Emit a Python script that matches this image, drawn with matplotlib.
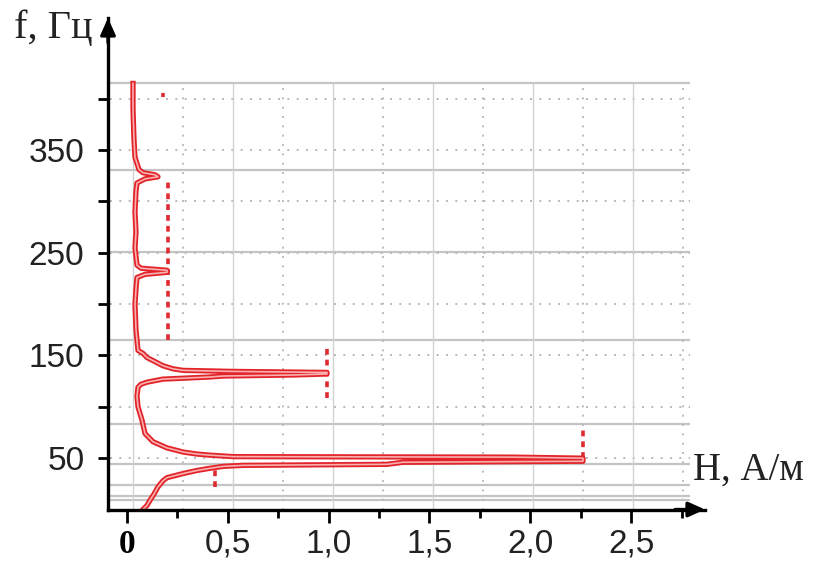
import matplotlib
matplotlib.use("Agg")
import matplotlib.pyplot as plt
import matplotlib.patheffects as pe

# spectrum of the field strength H (A/m) over frequency f (Hz)
spec_f = [0, 4, 9, 15, 22, 28, 31, 35, 38, 40, 42, 43, 44, 46, 47, 50, 51, 51.5,
          53, 54, 56, 60, 66, 74, 87, 100, 110, 119, 122, 124, 127, 129, 130, 131,
          132, 133.5, 134.5, 135.5, 137, 140, 143, 148, 152, 155, 175, 200, 215,
          226, 229, 231, 233, 235, 238, 255, 270, 290, 310, 318, 322, 324, 326,
          328, 331, 337, 343, 360, 390, 415]
spec_H = [0.05, 0.07, 0.085, 0.105, 0.125, 0.15, 0.17, 0.25, 0.32, 0.38, 0.45,
          0.55, 1.27, 1.35, 2.25, 2.25, 1.9, 0.5, 0.38, 0.32, 0.25, 0.17, 0.10,
          0.06, 0.045, 0.025, 0.02, 0.025, 0.04, 0.07, 0.15, 0.38, 0.45, 0.8,
          0.97, 0.97, 0.5, 0.25, 0.2, 0.15, 0.12, 0.07, 0.05, 0.025, 0.015, 0.01,
          0.015, 0.02, 0.06, 0.17, 0.17, 0.04, 0.02, 0.01, 0.015, 0.01, 0.015,
          0.02, 0.06, 0.125, 0.11, 0.05, 0.03, 0.02, 0.01, 0.005, 0.0, 0.0]

# dashed level markers: H value, f from, f to
mark_H = [0.175, 0.97, 2.25, 0.41, 0.15]
mark_f0 = [165, 109, 50, 22, 402]
mark_f1 = [322, 157, 79, 41, 406]

# chart grid
grid_solid_f = [415, 331, 251, 165, 83, 44, 24, 13, 9]
grid_dot_f = [50, 100, 150, 200, 250, 300, 350, 400]
grid_solid_H = [0, 0.5, 1.0, 1.5, 2.0, 2.5]
grid_dot_H = [0.25, 0.75, 1.25, 1.75, 2.25, 2.75]

# axis ticks
y_major = [50, 150, 250, 350]
y_minor = [100, 200, 300, 400]
x_major = [0, 0.5, 1.0, 1.5, 2.0, 2.5]
x_minor = [0.25, 0.75, 1.25, 1.75, 2.25, 2.75]
x_labels = ["0", "0,5", "1,0", "1,5", "2,0", "2,5"]

W, H = 817, 569
fig = plt.figure(figsize=(W / 100, H / 100), dpi=100)
rect = [108 / W, (H - 509.5) / H, (705 - 108) / W, (509.5 - 18) / H]

ylim = (0, 478.7)

# inner chart: grid and spectrum
ax = fig.add_axes(rect)
ax.set_xlim(-0.125, 2.86)
ax.set_ylim(*ylim)
ax.axis("off")

h_lo, h_hi = -0.115, 2.785
ax.hlines(grid_solid_f, h_lo, h_hi, color="#c4c4c4", lw=1.6, zorder=1)
ax.hlines(grid_dot_f, h_lo, h_hi, color="#b8b8b8", lw=1.4,
          linestyles=[(0, (1, 3.8))], zorder=1)
ax.vlines(grid_solid_H, 0, 415, color="#d2d2d2", lw=1.0, zorder=1)
ax.vlines(grid_dot_H, 0, 415, color="#bcbcbc", lw=1.4,
          linestyles=[(0, (1, 3.8))], zorder=1)

ax.plot(spec_H, spec_f, color="#f9b0b0", lw=1.2, zorder=3,
        path_effects=[pe.Stroke(linewidth=3.8, foreground="#e2242a"), pe.Normal()])
ax.vlines(mark_H, mark_f0, mark_f1, color="#e02a32", lw=2.6,
          linestyles=[(0, (1.6, 1.4))], zorder=2)

# outer axes with arrows and labels
ax2 = fig.add_axes(rect)
ax2.patch.set_visible(False)
ax2.set_xlim(-0.094, 2.866)
ax2.set_ylim(*ylim)
for s in ["top", "right"]:
    ax2.spines[s].set_visible(False)
for s in ["left", "bottom"]:
    ax2.spines[s].set_linewidth(2.4)

ax2.set_yticks(y_major)
ax2.set_yticks(y_minor, minor=True)
ax2.set_xticks(x_major)
ax2.set_xticks(x_minor, minor=True)
ax2.set_xticklabels(x_labels)
ax2.tick_params(axis="y", which="both", length=7, width=2, pad=10,
                labelsize=24)
ax2.tick_params(axis="x", which="major", length=9, width=2, pad=5, labelsize=24)
ax2.tick_params(axis="x", which="minor", length=6, width=2)
for lab in ax2.get_xticklabels() + ax2.get_yticklabels():
    lab.set_fontfamily("Liberation Sans")
    lab.set_color("#222222")
zero = ax2.get_xticklabels()[0]
zero.set_fontfamily("Liberation Serif")
zero.set_fontweight("bold")
zero.set_color("k")

arrow = dict(arrowstyle="-|>,head_length=1.0,head_width=0.45", color="k",
             lw=2.4, shrinkA=0, shrinkB=0)
ax2.annotate("", xy=(1, 0), xycoords="axes fraction", xytext=(0.95, 0),
             arrowprops=arrow)
ax2.annotate("", xy=(0, 1), xycoords="axes fraction", xytext=(0, 0.95),
             arrowprops=arrow)

fig.text(14 / W, 1 - 28 / H, "f, Гц", family="Liberation Serif", fontsize=29,
         va="center", ha="left", color="#222222")
fig.text(693 / W, 1 - 470 / H, "H, А/м", family="Liberation Serif",
         fontsize=28, va="center", ha="left", color="#222222")

fig.savefig("out.png", dpi=100)
